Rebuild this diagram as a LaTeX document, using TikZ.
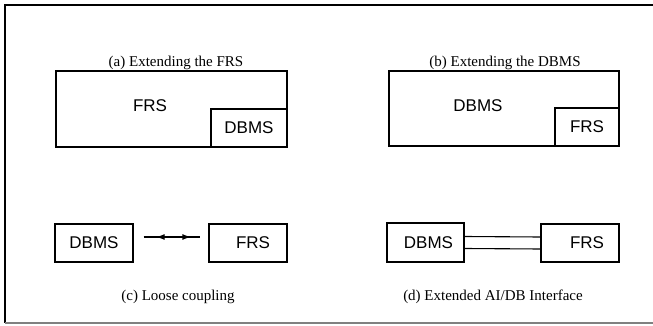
\documentclass[tikz,border=0pt]{standalone}
\usepackage{fontspec}
\setmainfont{Liberation Serif}
\setsansfont{Liberation Sans}
\usetikzlibrary{arrows.meta}

\begin{document}
\begin{tikzpicture}[x=1pt, y=-1pt, >={Latex[length=9pt,width=6pt]},
	sysbox/.style={draw, line width=1.4pt, inner sep=0pt, font=\sffamily\fontsize{17}{17}\selectfont},
	lbl/.style={font=\sffamily\fontsize{17}{17}\selectfont},
	subcap/.style={font=\fontsize{15}{15}\selectfont}]
	\useasboundingbox (0,0) rectangle (653,326);
	\draw[line width=1.4pt] (653,5) -- (5,5) -- (5,323);
	\draw[gray, line width=1.4pt] (5,323) -- (653,323);
	% (a) extending the FRS
	\node[subcap] (capA) at (176,63) {(a) Extending the FRS};
	\node[sysbox, minimum width=231pt, minimum height=76pt] (frsA) at (171.5,109) {};
	\node[sysbox, minimum width=76pt, minimum height=38pt, anchor=south east] (dbA) at (frsA.south east) {DBMS};
	\node[lbl] (frsAtxt) at (150,106) {FRS};
	% (b) extending the DBMS
	\node[subcap] (capB) at (505,63) {(b) Extending the DBMS};
	\node[sysbox, minimum width=230pt, minimum height=75pt] (dbB) at (504,108.5) {};
	\node[sysbox, minimum width=64pt, minimum height=38pt, anchor=south east] (frsB) at (dbB.south east) {FRS};
	\node[lbl] (dbBtxt) at (478,106) {DBMS};
	% (c) loose coupling
	\node[sysbox, minimum width=78pt, minimum height=38pt] (dbC) at (94,243) {DBMS};
	\node[sysbox, minimum width=78pt, minimum height=38pt] (frsC) at (248,243) {\hspace*{10pt}FRS};
	\coordinate (c1) at ([xshift=10pt, yshift=6pt]dbC.east);
	\coordinate (c2) at ([xshift=-8pt, yshift=6pt]frsC.west);
	\draw[line width=1.4pt] (c1) -- (c2);
	\draw[line width=1.4pt, <->] ([xshift=12pt]c1) -- ([xshift=-9pt]c2);
	\node[subcap] (capC) at (178,297) {(c) Loose coupling};
	% (d) extended AI/DB interface
	\node[sysbox, minimum width=77pt, minimum height=39pt] (dbD) at (425.5,242.5) {\hspace*{6pt}DBMS};
	\node[sysbox, minimum width=78pt, minimum height=38pt] (frsD) at (580,243) {\hspace*{14pt}FRS};
	\draw[line width=1.1pt] ([yshift=6pt]dbD.east) -- ([yshift=6pt]frsD.west);
	\draw[line width=1.1pt] ([yshift=-6pt]dbD.east) -- ([yshift=-6pt]frsD.west);
	\node[subcap] (capD) at (493,297) {(d) Extended AI/DB Interface};
\end{tikzpicture}
\end{document}
